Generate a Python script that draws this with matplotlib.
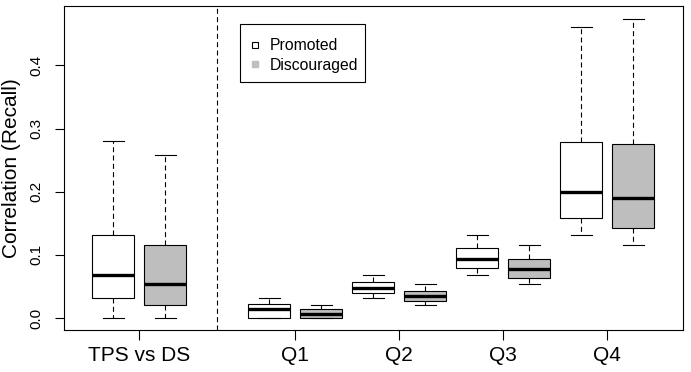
import numpy as np
import matplotlib
matplotlib.use("Agg")
import matplotlib.pyplot as plt
from matplotlib.lines import Line2D
from matplotlib.patches import Rectangle

plt.rcParams['font.family'] = ['Liberation Sans', 'DejaVu Sans']

# data (five-number summaries)
groups = ['TPS vs DS', 'Q1', 'Q2', 'Q3', 'Q4']
group_pos = [1.0, 2.5, 3.5, 4.5, 5.5]

prom_lo = [0.000, 0.000, 0.0316, 0.068, 0.131]
prom_q1 = [0.0316, 0.000, 0.0396, 0.079, 0.158]
prom_med = [0.068, 0.0147, 0.048, 0.094, 0.199]
prom_q3 = [0.131, 0.022, 0.057, 0.111, 0.2785]
prom_hi = [0.280, 0.0316, 0.068, 0.131, 0.460]

disc_lo = [0.000, 0.000, 0.0206, 0.054, 0.1155]
disc_q1 = [0.0206, 0.000, 0.0269, 0.063, 0.142]
disc_med = [0.054, 0.0063, 0.0353, 0.078, 0.190]
disc_q3 = [0.1155, 0.0142, 0.0427, 0.094, 0.275]
disc_hi = [0.258, 0.0206, 0.054, 0.1155, 0.474]

yticks = [0.0, 0.1, 0.2, 0.3, 0.4]
ytick_labels = ['0.0', '0.1', '0.2', '0.3', '0.4']
series_names = ['Promoted', 'Discouraged']
series_colors = ['white', '#BEBEBE']


def make_stats(lo, q1, med, q3, hi):
    return [dict(whislo=a, q1=b, med=c, q3=d, whishi=e, fliers=[])
            for a, b, c, d, e in zip(lo, q1, med, q3, hi)]


W, H = 691, 372
fig = plt.figure(figsize=(W / 100, H / 100), dpi=100)
ax = fig.add_axes([64 / W, 1 - 330 / H, (683 - 64) / W, (330 - 6) / H])

dash = (0, (4.5, 3.0))
lw = 0.8
offset = 0.25
all_stats = [make_stats(prom_lo, prom_q1, prom_med, prom_q3, prom_hi),
             make_stats(disc_lo, disc_q1, disc_med, disc_q3, disc_hi)]
for k, stats in enumerate(all_stats):
    pos = [p + (2 * k - 1) * offset for p in group_pos]
    ax.bxp(stats, positions=pos, widths=0.4, capwidths=0.2,
           patch_artist=True, showfliers=False,
           boxprops=dict(facecolor=series_colors[k], edgecolor='black', linewidth=lw),
           medianprops=dict(color='black', linewidth=2.4, solid_capstyle='butt'),
           whiskerprops=dict(color='black', linestyle=dash, linewidth=lw),
           capprops=dict(color='black', linewidth=lw))

# separator between overall and quartile comparisons
ax.axvline(1.75, color='black', linestyle=dash, linewidth=lw)

ax.set_xlim(0.276, 6.228)
ax.set_ylim(-0.019, 0.494)
ax.set_xticks(group_pos)
ax.set_xticklabels(groups, fontsize=15)
ax.set_yticks(yticks)
ax.set_yticklabels(ytick_labels, fontsize=11, rotation=90, va='center')
ax.tick_params(axis='x', length=7.2, width=lw, pad=4)
ax.tick_params(axis='y', length=6.7, width=lw, pad=8)
for s in ax.spines.values():
    s.set_linewidth(lw)

fig.text(12 / W, 1 - 168 / H, 'Correlation (Recall)', rotation=90,
         ha='center', va='center', fontsize=15)

# legend (R style: frame drawn separately)
handles = [Line2D([], [], marker='s', linestyle='none', markersize=4.8,
                  markerfacecolor='white', markeredgecolor='black', markeredgewidth=lw),
           Line2D([], [], marker='s', linestyle='none', markersize=4.6,
                  markerfacecolor='#BEBEBE', markeredgecolor='#BEBEBE')]
leg = ax.legend(handles, series_names, loc='upper left',
                bbox_to_anchor=(251.5 / W, 1 - 38.5 / H), bbox_transform=fig.transFigure,
                borderaxespad=0, borderpad=0, fontsize=11.3, frameon=False,
                handlelength=0.45, handletextpad=0.7, labelspacing=0.28)
fig.add_artist(Rectangle((240 / W, 1 - 82 / H), 124.5 / W, 58 / H,
                         transform=fig.transFigure, fill=False,
                         edgecolor='black', linewidth=lw))

fig.savefig('out.png', dpi=100)
